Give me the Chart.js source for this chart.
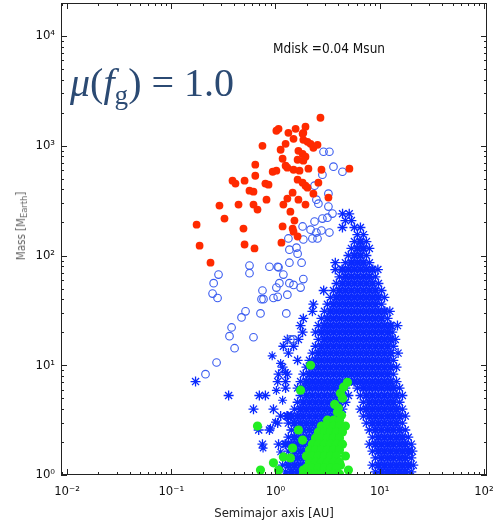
<!DOCTYPE html>
<html>
<head>
<meta charset="utf-8">
<script src="https://cdn.jsdelivr.net/npm/chart.js@4.4.1/dist/chart.umd.min.js"></script>
<style>
  html, body { margin: 0; padding: 0; background: #fff; }
  #wrap { position: relative; width: 497px; height: 525px; }
  #chart { position: absolute; left: 0; top: 0; }
  .lbl { position: absolute; white-space: nowrap; line-height: 1; }
  #mu { left: 70px; top: 63px; font-family: "Liberation Serif", "DejaVu Serif", serif; font-size: 40px; color: #2b4a73; }
  #mu sub { font-size: 0.68em; vertical-align: -0.28em; }
  #mdisk { left: 273px; top: 42px; font-family: "DejaVu Sans Condensed", "DejaVu Sans", sans-serif; font-stretch: condensed; font-size: 13.5px; color: #111; }
  #ytitle { left: 22px; top: 226px; transform: translate(-50%, -50%) rotate(-90deg); font-family: "DejaVu Sans Condensed", "DejaVu Sans", sans-serif; font-stretch: condensed; font-size: 11.5px; color: #666; }
  #ytitle sub { font-size: 0.8em; vertical-align: -0.2em; }
</style>
</head>
<body>
<div id="wrap">
  <canvas id="chart" width="497" height="525"></canvas>
  <div id="mu" class="lbl"><i>μ</i>(<i>f</i><sub>g</sub>) = 1.0</div>
  <div id="mdisk" class="lbl">Mdisk =0.04 Msun</div>
  <div id="ytitle" class="lbl">Mass [M<sub>Earth</sub>]</div>
</div>
<script>
// Axis ticks
const xTicks = [0.01, 0.1, 1, 10, 100];
const xTickLabels = ['10⁻²', '10⁻¹', '10⁰', '10¹', '10²'];
const yTicks = [1, 10, 100, 1000, 10000];
const yTickLabels = ['10⁰', '10¹', '10²', '10³', '10⁴'];

// Red filled circles (gas giants)
const redA = [2.70,1.07,1.02,1.33,1.56,1.94,1.85,1.82,1.49,1.25,0.75,1.12,1.85,2.03,2.17,2.31,2.53,1.66,1.82,1.94,1.17,1.63,1.85,0.64,1.25,1.30,0.94,1.02,1.49,1.70,2.07,2.76,5.12,0.64,0.387,0.413,0.505,0.80,0.857,1.63,1.82,1.94,2.03,2.58,2.31,3.22,1.46,0.563,0.615,1.30,1.66,0.82,0.29,0.442,0.615,0.672,1.19,1.94,1.39,0.324,1.52,0.175,0.493,1.17,1.46,1.49,1.63,1.14,0.187,0.505,0.629,0.238];
const redM = [1800,1428,1370,1313,1428,1490,1313,1285,1158,1042,1000,920,1134,1087,1042,959,1021,900,845,794,762,746,731,672,658,631,580,593,605,593,618,605,618,533,481,452,481,452,442,491,461,433,415,461,366,337,374,390,382,330,323,323,285,291,291,262,291,291,251,217,208,191,176,184,176,165,149,131,123,126,116,86];

// Blue open circles
const circA = [2.89,3.29,3.60,4.39,2.82,2.37,3.22,2.47,2.58,3.22,3.52,3.15,2.82,2.37,1.82,2.17,2.47,2.76,3.29,1.33,1.85,2.26,2.53,1.59,1.36,1.63,1.36,1.78,0.563,0.563,0.875,1.05,1.07,0.284,1.19,1.85,0.255,0.75,1.36,1.09,1.02,1.49,1.30,1.74,0.249,0.278,0.734,0.767,0.956,1.05,0.516,0.472,0.718,1.27,0.379,0.362,0.615,1.39,1.49,0.405,0.272,0.213];
const circM = [882,882,645,580,545,433,366,323,297,279,241,221,217,204,184,172,162,169,162,143,140,143,143,118,113,104,86,86,81,69,79,79,78,67,67,61,56,48,56,56,51,54,44,51,45,41,40,40,41,42,31,27.3,29.7,29.7,22.1,18.4,18.0,17.2,17.2,14.3,10.6,8.3];

// Green filled circles
const greenA = [2.17,1.74,0.672,0.718,0.956,1.19,1.46,1.07,1.39,1.85,1.82,1.66,4.49,4.9,4.2,4.39,4.02,3.93,4.2,5.01,3.7,4.3,
  3.15,3.6,4.11, 2.76,3.15,3.6,4.11,4.69, 2.58,2.95,3.37,3.85,4.39, 2.42,2.76,3.15,3.6,4.11,
  2.26,2.58,2.95,3.37,3.85,4.39, 2.12,2.42,2.76,3.15,3.6,4.11, 1.98,2.26,2.58,2.95,3.37,3.85,4.69,
  2.12,2.42,2.76,3.15,3.6,4.11, 1.98,2.26,2.58,2.95,3.37,3.85, 1.85,2.12,2.42,2.76,3.15,3.6,4.11];
const greenM = [10,5.93,2.79,1.11,1.29,1.46,1.76,1.11,1.43,1.11,2.08,2.57,6.31,7.0,5.56,5.01,4.06,3.74,1.23,1.11,4.4,3.5,
  3.16,3.16,3.16, 2.79,2.79,2.79,2.79,2.79, 2.46,2.46,2.46,2.46,2.46, 2.17,2.17,2.17,2.17,2.17,
  1.91,1.91,1.91,1.91,1.91,1.91, 1.69,1.69,1.69,1.69,1.69,1.69, 1.49,1.49,1.49,1.49,1.49,1.49,1.49,
  1.31,1.31,1.31,1.31,1.31,1.31, 1.16,1.16,1.16,1.16,1.16,1.16, 1.02,1.02,1.02,1.02,1.02,1.02,1.02];

// Blue asterisks: one mass value per row, semimajor axes along it
const starM = [240,208,180,155,134,116,100,86,74.5,64,55.6,48,41.5,36,31,26.7,23,20,17.2,14.9,12.9,11.1,9.6,8.3,7.1,6.2,5.3,4.6,3.98,3.44,2.97,2.57,2.21,1.91,1.65,1.43,1.23,1.07];
const starA = [
  [4.4,5.1],
  [4.69,5.35],
  [4.39,5.72,6.53],
  [6.11,6.98],
  [5.72,6.53,7.45],
  [5.35,6.11,6.98,7.96],
  [5.01,5.72,6.53,7.45],
  [3.75,4.69,5.35,6.11,6.98,7.96],
  [3.75,4.39,5.01,5.72,6.53,7.45,8.51,9.6],
  [4.11,4.69,5.35,6.11,6.98,7.96,9.09],
  [3.85,4.39,5.01,5.72,6.53,7.45,8.51,9.72],
  [2.9,3.6,4.11,4.69,5.35,6.11,6.98,7.96,9.09,10.4],
  [3.37,3.85,4.39,5.01,5.72,6.53,7.45,8.51,9.72,11.1],
  [2.31,3.15,3.6,4.11,4.69,5.35,6.11,6.98,7.96,9.09,10.4],
  [2.26,2.95,3.37,3.85,4.39,5.01,5.72,6.53,7.45,8.51,9.72,11.1,12.5],
  [1.85,2.76,3.15,3.6,4.11,4.69,5.35,6.11,6.98,7.96,9.09,10.4,11.9],
  [1.74,2.58,2.95,3.37,3.85,4.39,5.01,5.72,6.53,7.45,8.51,9.72,11.1,12.7,14.8],
  [1.82,2.42,2.76,3.15,3.6,4.11,4.69,5.35,6.11,6.98,7.96,9.09,10.4,11.9,13.2],
  [1.3,1.66,2.58,2.95,3.37,3.85,4.39,5.01,5.72,6.53,7.45,8.51,9.72,11.1,12.7,14.1],
  [1.19,1.49,2.42,2.76,3.15,3.6,4.11,4.69,5.35,6.11,6.98,7.96,9.09,10.4,11.9,13.5],
  [1.33,2.26,2.58,2.95,3.37,3.85,4.39,5.01,5.72,6.53,7.45,8.51,9.72,11.1,12.7,15],
  [1.63,2.12,2.42,2.76,3.15,3.6,4.11,4.69,5.35,6.11,6.98,7.96,9.09,10.4,11.9,13.5],
  [1.17,1.98,2.26,2.58,2.95,3.37,3.85,4.39,5.01,5.72,6.53,7.45,8.51,9.72,11.1,12.7,14.5],
  [1.07,1.3,1.85,2.12,2.42,2.76,3.15,3.6,4.11,4.69,5.35,6.11,6.98,7.96,9.09,10.4,11.9,13.5],
  [0.171,1.05,1.25,1.74,1.98,2.26,2.58,2.95,3.37,3.85,4.39,5.01,5.72,6.53,7.45,8.51,9.72,11.1,12.7,14.5],
  [1.25,1.63,1.85,2.12,2.42,2.76,3.15,3.6,4.11,4.69,6.11,6.98,7.96,9.09,10.4,11.9,13.5,15.5],
  [0.355,0.7,0.8,1.74,1.98,2.26,2.58,2.95,3.37,3.85,4.39,5.01,6.53,7.45,8.51,9.72,11.1,12.7,14.5,16.5],
  [1.63,1.85,2.12,2.42,2.76,3.15,3.6,4.11,4.69,6.98,7.96,9.09,10.4,11.9,13.5,15.5],
  [0.615,0.956,1.52,1.74,1.98,2.26,2.58,2.95,3.37,3.85,4.39,6.53,7.45,8.51,9.72,11.1,12.7,14.5,16.5],
  [1.12,1.3,1.42,1.63,1.85,2.12,2.42,2.76,3.15,3.6,4.11,6.98,7.96,9.09,10.4,11.9,13.5,15.5,17.6],
  [1.05,1.33,1.52,1.74,1.98,2.26,2.58,2.95,3.37,3.85,7.45,8.51,9.72,11.1,12.7,14.5,16.5],
  [0.69,0.875,1.42,1.63,1.85,2.12,2.42,2.76,3.15,3.6,7.96,9.09,10.4,11.9,13.5,15.5,17.6],
  [1.33,1.52,1.74,1.98,2.26,2.58,2.95,3.37,8.51,9.72,11.1,12.7,14.5,16.5,18.8],
  [0.75,1.07,1.25,1.42,1.63,1.85,2.12,2.42,2.76,3.15,3.6,7.96,9.09,10.4,11.9,13.5,15.5,17.6,20.1],
  [1.33,1.52,1.74,1.98,2.26,2.58,2.95,3.37,8.51,9.72,11.1,12.7,14.5,16.5,18.8,20.6],
  [1.25,1.42,1.63,1.85,2.12,2.42,2.76,3.15,9.09,10.4,11.9,13.5,15.5,17.6,20.1],
  [1.17,1.33,1.52,1.74,1.98,2.26,2.58,2.95,8.51,9.72,11.1,12.7,14.5,16.5,18.8,21],
  [1.25,1.42,1.63,1.85,2.12,2.42,2.76,9.09,10.4,11.9,13.5,15.5,17.6,20.1]
];

// Loose asterisks scattered left of the main cloud
const looseA = [1.12,1.25,1.17,1.0,0.895,1.12,0.76,1.02,0.93];
const looseM = [10.4,8.6,4.8,3.03,2.67,1.62,1.76,5.9,12.2];

const pts = (xs, ys) => xs.map((a, i) => ({x: a, y: ys[i]}));
// points at the edge of a row (or isolated) get thinner strokes
const starPts = starA.flatMap((row, i) => row.map((a, j) => ({
  x: a, y: starM[i],
  edge: j === 0 || j === row.length - 1 || a / row[j - 1] > 1.2 || row[j + 1] / a > 1.2
})));

const FONT = '"DejaVu Sans Condensed", "DejaVu Sans", sans-serif';
const STAR = '#0a2aff';

// Box with inward major/minor ticks on all four sides
const frame = {
  id: 'frame',
  afterDraw(chart) {
    const {ctx, chartArea: a, scales: {x, y}} = chart;
    ctx.save();
    ctx.strokeStyle = '#222';
    ctx.lineWidth = 1;
    ctx.strokeRect(a.left + 0.5, a.top + 0.5, a.right - a.left - 1, a.bottom - a.top - 1);
    ctx.beginPath();
    for (let e = -3; e <= 4; e++) {
      for (let m = 1; m <= 9; m++) {
        const v = m * Math.pow(10, e);
        const len = m === 1 ? 6 : 3;
        if (v >= x.min && v <= x.max) {
          const px = Math.round(x.getPixelForValue(v)) + 0.5;
          ctx.moveTo(px, a.bottom); ctx.lineTo(px, a.bottom - len);
          ctx.moveTo(px, a.top); ctx.lineTo(px, a.top + len);
        }
        if (v >= y.min && v <= y.max) {
          const py = Math.round(y.getPixelForValue(v)) + 0.5;
          ctx.moveTo(a.left, py); ctx.lineTo(a.left + len, py);
          ctx.moveTo(a.right, py); ctx.lineTo(a.right - len, py);
        }
      }
    }
    ctx.stroke();
    ctx.restore();
  }
};

new Chart(document.getElementById('chart'), {
  type: 'scatter',
  data: {
    datasets: [
      { label: 'green', data: pts(greenA, greenM), pointStyle: 'circle', pointRadius: 4.6, backgroundColor: '#22ee22', borderColor: '#22ee22', borderWidth: 0, order: 1, clip: 0 },
      { label: 'red', data: pts(redA, redM), pointStyle: 'circle', pointRadius: 3.9, backgroundColor: '#ff2a00', borderColor: '#ff2a00', borderWidth: 0, order: 2, clip: 0 },
      { label: 'open', data: pts(circA, circM), pointStyle: 'circle', pointRadius: 3.8, backgroundColor: 'rgba(0,0,0,0)', borderColor: '#3a5cf0', borderWidth: 1.1, order: 3, clip: 0 },
      { label: 'stars', data: starPts, pointStyle: 'star', pointRadius: 5, backgroundColor: STAR, borderColor: STAR, borderWidth: c => (c.raw && c.raw.edge ? 1.3 : 2.2), order: 4, clip: 0 },
      { label: 'loose', data: pts(looseA, looseM), pointStyle: 'star', pointRadius: 4.5, backgroundColor: STAR, borderColor: STAR, borderWidth: 1.2, order: 5, clip: 0 }
    ]
  },
  options: {
    responsive: false,
    animation: false,
    devicePixelRatio: 1,
    layout: { autoPadding: false, padding: { left: 0, right: 10, top: 3, bottom: 0 } },
    plugins: { legend: { display: false }, tooltip: { enabled: false } },
    scales: {
      x: {
        type: 'logarithmic', min: 0.00875, max: 107,
        grid: { display: false, drawTicks: false }, border: { display: false },
        afterBuildTicks: s => { s.ticks = xTicks.map(v => ({value: v})); },
        afterFit: s => { s.height = 50; s.paddingLeft = 0; s.paddingRight = 0; },
        ticks: { padding: 9, color: '#111', font: { family: FONT, size: 13 }, maxRotation: 0, autoSkip: false, callback: (v, i) => xTickLabels[i] },
        title: { display: true, text: 'Semimajor axis [AU]', color: '#222', font: { family: FONT, size: 13 }, padding: { top: 0, bottom: 4 } }
      },
      y: {
        type: 'logarithmic', min: 1, max: 20000,
        grid: { display: false, drawTicks: false }, border: { display: false },
        afterBuildTicks: s => { s.ticks = yTicks.map(v => ({value: v})); },
        afterFit: s => { s.width = 61; s.paddingTop = 0; s.paddingBottom = 0; },
        ticks: { padding: 6, color: '#111', font: { family: FONT, size: 13 }, autoSkip: false, callback: (v, i) => yTickLabels[i] }
      }
    }
  },
  plugins: [frame]
});
</script>
</body>
</html>
